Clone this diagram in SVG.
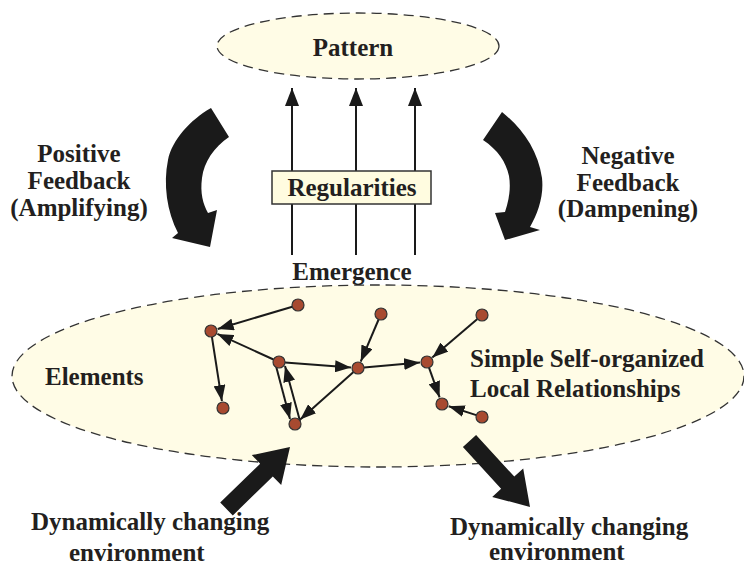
<svg xmlns="http://www.w3.org/2000/svg" width="744" height="567" viewBox="0 0 744 567">
  <style>
    text { font-family: "Liberation Serif", "DejaVu Serif", serif; font-weight: 700; font-size: 25px; fill: #231f20; }
    .mid { text-anchor: middle; }
    .cloud { fill: #fffce6; stroke: #333; stroke-width: 1.3; stroke-dasharray: 10 6; }
    .edge { stroke: #1a1a1a; stroke-width: 2; fill: none; marker-end: url(#ah); }
    .up { stroke: #1a1a1a; stroke-width: 2; fill: none; marker-end: url(#ahBig); }
    .node { fill: #a84a30; stroke: #333; stroke-width: 1.2; }
    .big { fill: #1a1a1a; }
  </style>
  <defs>
    <marker id="ah" markerUnits="userSpaceOnUse" markerWidth="16" markerHeight="12" refX="16" refY="6" orient="auto">
      <path d="M0,0 L16,6 L0,12 Z" fill="#1a1a1a"/>
    </marker>
    <marker id="ahBig" markerUnits="userSpaceOnUse" markerWidth="18" markerHeight="14" refX="18" refY="7" orient="auto">
      <path d="M0,0 L18,7 L0,14 Z" fill="#1a1a1a"/>
    </marker>
  </defs>

  <g id="pattern">
    <ellipse class="cloud" cx="358" cy="46" rx="141" ry="33"/>
    <text class="mid" x="353" y="56">Pattern</text>
  </g>

  <g id="elements-cloud">
    <ellipse class="cloud" cx="378" cy="376" rx="366" ry="91"/>
    <text x="45" y="385">Elements</text>
    <text x="470" y="367">Simple Self-organized</text>
    <text x="470" y="397">Local Relationships</text>
  </g>

  <g id="connectors">
    <line class="up" x1="292" y1="255" x2="292" y2="88"/>
    <line class="up" x1="356" y1="255" x2="356" y2="88"/>
    <line class="up" x1="415" y1="255" x2="415" y2="88"/>

    <line class="edge" x1="292.3" y1="306.7" x2="217.7" y2="329"/>
    <line class="edge" x1="273.5" y1="359.5" x2="217.4" y2="333.9"/>
    <line class="edge" x1="211.9" y1="336.9" x2="221.9" y2="401.1"/>
    <line class="edge" x1="285" y1="362.5" x2="351" y2="367.5"/>
    <line class="edge" x1="276" y1="366" x2="290" y2="419"/>
    <line class="edge" x1="300" y1="421" x2="285" y2="366"/>
    <line class="edge" x1="353.5" y1="372" x2="300.2" y2="419.4"/>
    <line class="edge" x1="378.6" y1="319.5" x2="360.7" y2="361.6"/>
    <line class="edge" x1="364" y1="367.5" x2="420" y2="362.6"/>
    <line class="edge" x1="477.4" y1="318.9" x2="432.3" y2="357.5"/>
    <line class="edge" x1="429" y1="367.6" x2="439.6" y2="397.4"/>
    <line class="edge" x1="476.3" y1="415.1" x2="448.7" y2="406.2"/>

    <path id="pos-feedback-arrow" class="big" d="M211,108 L229,137 C214,147 204,162 202,178 C200,193 203,204 208,213 L217,210 L210,247 L172,238 L178,233 C167,212 163,184 168,160 C172,140 190,120 211,108 Z"/>
    <path id="neg-feedback-arrow" class="big" d="M502,112 C522,128 538,150 542,178 C544,196 538,213 530,227 L540,230 L505,240 L495,213 L505,212 C509,200 511,188 509,176 C506,162 498,150 483,140 Z"/>
    <polygon id="env-in-arrow" class="big" points="220.2,502.6 260.2,463.7 251.8,455.1 290,447 281.2,485.1 272.8,476.5 232.8,515.4"/>
    <polygon id="env-out-arrow" class="big" points="476.1,434.9 514.3,476.6 523.2,468.5 530,507 492.2,496.9 501.1,488.8 462.9,447.1"/>
  </g>

  <g id="regularities">
    <rect x="272" y="171" width="159" height="33" fill="#fffce0" stroke="#333" stroke-width="1.5"/>
    <text class="mid" x="352" y="196">Regularities</text>
  </g>

  <g id="emergence">
    <text class="mid" x="352" y="280">Emergence</text>
  </g>

  <g id="positive-feedback">
    <text class="mid" x="79" y="162">Positive</text>
    <text class="mid" x="79" y="189">Feedback</text>
    <text class="mid" x="79" y="216">(Amplifying)</text>
  </g>

  <g id="negative-feedback">
    <text class="mid" x="628" y="164">Negative</text>
    <text class="mid" x="628" y="191">Feedback</text>
    <text class="mid" x="628" y="217">(Dampening)</text>
  </g>

  <g id="nodes">
    <circle id="n1" class="node" cx="298" cy="305" r="6"/>
    <circle id="n2" class="node" cx="211" cy="331" r="6"/>
    <circle id="n3" class="node" cx="279" cy="362" r="6"/>
    <circle id="n4" class="node" cx="223" cy="408" r="6"/>
    <circle id="n5" class="node" cx="295" cy="424" r="6"/>
    <circle id="n6" class="node" cx="358" cy="368" r="6"/>
    <circle id="n7" class="node" cx="381" cy="314" r="6"/>
    <circle id="n8" class="node" cx="427" cy="362" r="6"/>
    <circle id="n9" class="node" cx="482" cy="315" r="6"/>
    <circle id="n10" class="node" cx="442" cy="404" r="6"/>
    <circle id="n11" class="node" cx="482" cy="417" r="6"/>
  </g>

  <g id="env-in">
    <text x="31" y="530">Dynamically changing</text>
    <text x="69" y="561">environment</text>
  </g>
  <g id="env-out">
    <text x="450" y="535">Dynamically changing</text>
    <text x="489" y="560">environment</text>
  </g>
</svg>
